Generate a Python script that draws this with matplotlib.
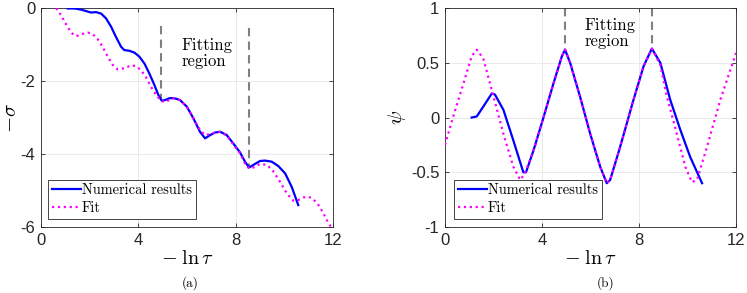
import numpy as np
import matplotlib
matplotlib.use("Agg")
import matplotlib.pyplot as plt

plt.rcParams["mathtext.fontset"] = "cm"
plt.rcParams["axes.unicode_minus"] = False

# ---- panel (a): -sigma vs -ln tau ----
a_num_x = [1.10, 1.37, 1.64, 1.85, 2.05, 2.26, 2.47, 2.67, 2.88, 3.08, 3.29, 3.42, 3.63,
           3.84, 4.04, 4.25, 4.45, 4.66, 4.82, 4.96, 5.10, 5.27, 5.48, 5.71, 5.99, 6.26,
           6.53, 6.74, 6.95, 7.15, 7.36, 7.63, 7.90, 8.18, 8.38, 8.55, 8.72, 9.0, 9.21,
           9.48, 9.75, 10.03, 10.30, 10.57]
a_num_y = [-0.01, -0.01, -0.04, -0.08, -0.12, -0.11, -0.15, -0.28, -0.51, -0.79, -1.06,
           -1.15, -1.17, -1.22, -1.33, -1.52, -1.79, -2.11, -2.38, -2.54, -2.52, -2.47,
           -2.47, -2.52, -2.70, -3.02, -3.39, -3.57, -3.48, -3.41, -3.39, -3.48, -3.71,
           -3.96, -4.21, -4.37, -4.30, -4.19, -4.18, -4.21, -4.33, -4.53, -4.90, -5.40]
a_fit_x = [0.62, 0.82, 1.03, 1.23, 1.44, 1.64, 1.92, 2.12, 2.33, 2.53, 2.74, 2.95, 3.15,
           3.42, 3.70, 3.90, 4.11, 4.32, 4.52, 4.73, 4.93, 5.10, 5.27, 5.48, 5.71, 5.99,
           6.26, 6.53, 6.74, 6.95, 7.36, 7.63, 7.90, 8.18, 8.38, 8.55, 8.72, 9.0, 9.29,
           9.55, 9.82, 10.10, 10.37, 10.57, 10.78, 10.99, 11.19, 11.40, 11.60, 11.81, 11.91]
a_fit_y = [0.0, -0.19, -0.44, -0.67, -0.77, -0.72, -0.67, -0.71, -0.85, -1.06, -1.33,
           -1.56, -1.68, -1.65, -1.57, -1.59, -1.70, -1.90, -2.16, -2.38, -2.54, -2.58,
           -2.52, -2.47, -2.52, -2.71, -3.02, -3.34, -3.48, -3.45, -3.39, -3.49, -3.74,
           -3.98, -4.26, -4.40, -4.37, -4.27, -4.30, -4.48, -4.76, -5.08, -5.28, -5.26,
           -5.19, -5.17, -5.24, -5.40, -5.62, -5.90, -5.99]
a_fit_lines = [(4.95, -0.5, -2.52), (8.55, -0.55, -4.36)]

# ---- panel (b): psi vs -ln tau ----
b_num_x = [1.1, 1.31, 1.58, 1.93, 2.06, 2.41, 2.82, 3.23, 3.34, 3.65, 4.06, 4.47, 4.82, 4.95,
           5.16, 5.57, 5.99, 6.4, 6.67, 6.81, 7.22, 7.77, 8.19, 8.53, 8.88, 9.29, 9.7, 10.11,
           10.6]
b_num_y = [0.0, 0.01, 0.1, 0.22, 0.21, 0.07, -0.21, -0.5, -0.5, -0.3, 0.0, 0.31, 0.56, 0.62,
           0.5, 0.19, -0.15, -0.45, -0.6, -0.57, -0.27, 0.16, 0.47, 0.63, 0.5, 0.16, -0.11,
           -0.36, -0.6]
b_fit_x = [0.0, 0.34, 0.76, 1.1, 1.31, 1.58, 1.93, 2.41, 2.82, 3.1, 3.3, 3.65, 4.06, 4.47,
           4.82, 4.95, 5.16, 5.57, 5.99, 6.4, 6.67, 6.81, 7.22, 7.77, 8.19, 8.53, 8.88, 9.15,
           9.56, 9.91, 10.18, 10.39, 10.8, 11.35, 12.0]
b_fit_y = [-0.25, 0.01, 0.31, 0.56, 0.62, 0.54, 0.25, -0.15, -0.45, -0.57, -0.51, -0.3, 0.0,
           0.31, 0.56, 0.62, 0.5, 0.19, -0.15, -0.45, -0.6, -0.57, -0.27, 0.16, 0.47, 0.63,
           0.48, 0.19, -0.15, -0.45, -0.59, -0.57, -0.27, 0.16, 0.59]
b_fit_lines = [(4.95, 1.0, 0.62), (8.55, 1.0, 0.63)]

ticks_x = [0, 4, 8, 12]
a_ticks_y = [-6, -4, -2, 0]
b_ticks_y = [-1, -0.5, 0, 0.5, 1]
b_tick_labels_y = ["-1", "-0.5", "0", "0.5", "1"]

edge = "#262626"
tickfont = dict(family="Liberation Sans", size=12)
xlab = r"$-\;\ln\tau$"


def style_axes(ax):
    ax.grid(True, color="#e6e6e6", lw=0.6)
    ax.set_axisbelow(True)
    for s in ax.spines.values():
        s.set_color(edge)
        s.set_linewidth(0.6)
    ax.tick_params(direction="in", top=True, right=True, length=3, width=0.6,
                   color=edge, pad=4)
    for lab in ax.get_xticklabels() + ax.get_yticklabels():
        lab.set_fontfamily(tickfont["family"])
        lab.set_fontsize(tickfont["size"])
        lab.set_color(edge)


def add_legend(ax, x0):
    leg = ax.legend(loc="lower left", bbox_to_anchor=(x0, 0.037), borderaxespad=0,
                    prop=dict(family="cmr10", size=10.4), fancybox=False, framealpha=1,
                    edgecolor=edge, handlelength=2.0, handletextpad=0.1,
                    labelspacing=0.3, borderpad=0.25)
    leg.get_frame().set_linewidth(0.6)


fig = plt.figure(figsize=(7.47, 2.93), dpi=100)
ax1 = fig.add_axes([0.0549, 0.2253, 0.391, 0.747])
ax2 = fig.add_axes([0.5957, 0.2253, 0.3896, 0.747])

# panel (a)
ax1.plot(a_num_x, a_num_y, color="#0000ff", lw=1.6, label="Numerical results", zorder=3)
ax1.plot(a_fit_x, a_fit_y, color="#ff00ff", lw=1.6, ls=":", label="Fit", zorder=4)
for x, y0, y1 in a_fit_lines:
    ax1.plot([x, x], [y0, y1], color="#808080", lw=1.5, ls=(0, (4, 2.5)), zorder=2)
ax1.text(5.77, -1.23, "Fitting\nregion", family="cmr10", fontsize=12, va="center",
         ha="left", linespacing=1.05)
ax1.set_xlim(0, 12)
ax1.set_ylim(-6, 0)
ax1.set_xticks(ticks_x)
ax1.set_yticks(a_ticks_y)
ax1.set_yticklabels([str(v) for v in a_ticks_y])
ax1.set_xlabel(xlab, fontsize=14.5, labelpad=1)
ax1.set_ylabel(r"$-\sigma$", fontsize=15, labelpad=0)
style_axes(ax1)
add_legend(ax1, 0.024)

# panel (b)
ax2.plot(b_num_x, b_num_y, color="#0000ff", lw=1.6, label="Numerical results", zorder=3)
ax2.plot(b_fit_x, b_fit_y, color="#ff00ff", lw=1.6, ls=":", label="Fit", zorder=4)
for x, y0, y1 in b_fit_lines:
    ax2.plot([x, x], [y0, y1], color="#808080", lw=1.5, ls=(0, (4, 2.5)), zorder=2)
ax2.text(5.74, 0.77, "Fitting\nregion", family="cmr10", fontsize=12, va="center",
         ha="left", linespacing=1.05)
ax2.set_xlim(0, 12)
ax2.set_ylim(-1, 1)
ax2.set_xticks(ticks_x)
ax2.set_yticks(b_ticks_y)
ax2.set_yticklabels(b_tick_labels_y)
ax2.set_xlabel(xlab, fontsize=14.5, labelpad=1)
ax2.set_ylabel(r"$\psi$", fontsize=15, labelpad=2)
style_axes(ax2)
add_legend(ax2, 0.031)

fig.text(190 / 747, 1 - 283 / 293, "(a)", family="cmr10", fontsize=9.5, ha="center",
         va="center")
fig.text(606 / 747, 1 - 283 / 293, "(b)", family="cmr10", fontsize=9.5, ha="center",
         va="center")

fig.savefig("out.png", dpi=100)
